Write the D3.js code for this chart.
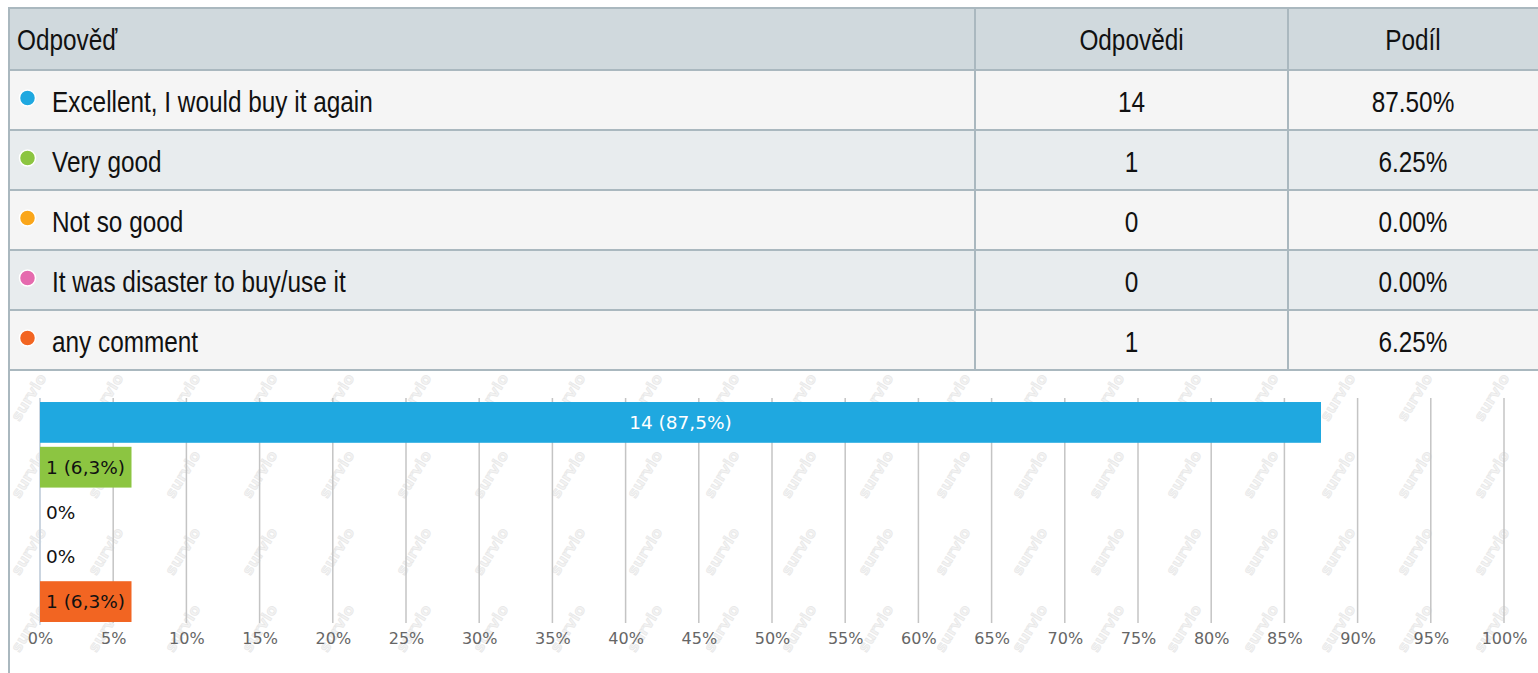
<!DOCTYPE html>
<html>
<head>
<meta charset="utf-8">
<script src="https://cdn.jsdelivr.net/npm/d3@7"></script>
<style>
  body { margin: 0; background: #fff; }
  svg { display: block; }
</style>
</head>
<body>
<script>
var width  = 1538;
var height = 673;

// data
var answers = [
  'Excellent, I would buy it again',
  'Very good',
  'Not so good',
  'It was disaster to buy/use it',
  'any comment'
];
var counts   = [14, 1, 0, 0, 1];
var shares   = ['87.50%', '6.25%', '0.00%', '0.00%', '6.25%'];
var barText  = ['14 (87,5%)', '1 (6,3%)', '0%', '0%', '1 (6,3%)'];
var colors   = ['#1fa8e0', '#8cc541', '#faa61a', '#e56aae', '#f26522'];
var headers  = ['Odpověď', 'Odpovědi', 'Podíl'];
var tickVals = d3.range(0, 101, 5);

var total = d3.sum(counts);
var rows = answers.map(function(a, i){
  return { answer: a, count: counts[i], share: shares[i], pct: counts[i] / total * 100,
           label: barText[i], color: colors[i] };
});

// no narrow font installed: squeeze Liberation Sans horizontally instead
var tableFont = '"Liberation Sans", Arial, sans-serif';
var squeeze   = 0.84;
var chartFont = '"DejaVu Sans", Verdana, sans-serif';
var border = '#aab8bf';

var svg = d3.select('body')
            .append('svg')
            .attr('width', width)
            .attr('height', height);

function narrowText(sel, x, y, anchor, txt){
  return sel.append('text')
            .attr('transform', 'translate(' + x + ',' + y + ') scale(' + squeeze + ',1)')
            .attr('text-anchor', anchor)
            .attr('font-family', tableFont)
            .attr('font-size', '29px')
            .attr('fill', '#111')
            .text(txt);
}

// ---- table ----
var tLeft = 9, tTop = 8, headH = 62, rowH = 60, tRight = 1545;
var col1 = 975, col2 = 1288;

svg.append('rect')
   .attr('x', tLeft).attr('y', tTop)
   .attr('width', tRight - tLeft).attr('height', headH)
   .attr('fill', '#d0d9dd');

var rowG = svg.selectAll('g.row')
              .data(rows)
              .enter()
              .append('g')
              .attr('class', 'row')
              .attr('transform', function(d, i){ return 'translate(0,' + (tTop + headH + i * rowH) + ')'; });

rowG.append('rect')
    .attr('x', tLeft).attr('y', 0)
    .attr('width', tRight - tLeft).attr('height', rowH)
    .attr('fill', function(d, i){ return i % 2 ? '#e8ecee' : '#f5f5f5'; });

// horizontal lines
var hLines = d3.range(rows.length + 2).map(function(i){
  return i === 0 ? tTop : tTop + headH + (i - 1) * rowH;
});
svg.selectAll('line.h')
   .data(hLines)
   .enter()
   .append('line')
   .attr('x1', tLeft).attr('x2', tRight)
   .attr('y1', function(d){ return d; }).attr('y2', function(d){ return d; })
   .attr('stroke', border).attr('stroke-width', 2);

var tBottom = hLines[hLines.length - 1];

svg.selectAll('line.v')
   .data([col1, col2])
   .enter()
   .append('line')
   .attr('x1', function(d){ return d; }).attr('x2', function(d){ return d; })
   .attr('y1', tTop).attr('y2', tBottom)
   .attr('stroke', border).attr('stroke-width', 2);

// left border runs down the whole panel
svg.append('line')
   .attr('x1', tLeft).attr('x2', tLeft)
   .attr('y1', tTop - 1).attr('y2', height)
   .attr('stroke', border).attr('stroke-width', 2);

// header texts
var headPos = [
  { x: 17, anchor: 'start' },
  { x: (col1 + col2) / 2, anchor: 'middle' },
  { x: (col2 + width) / 2, anchor: 'middle' }
];
headers.forEach(function(h, i){
  narrowText(svg, headPos[i].x, tTop + 42, headPos[i].anchor, h);
});

rowG.append('circle')
    .attr('cx', 27.5).attr('cy', rowH / 2 - 2).attr('r', 8)
    .attr('fill', function(d){ return d.color; })
    .attr('stroke', '#fff').attr('stroke-width', 1.5);

rowG.each(function(d){
  var g = d3.select(this);
  narrowText(g, 52, 42, 'start', d.answer);
  narrowText(g, headPos[1].x, 42, 'middle', d.count);
  narrowText(g, headPos[2].x, 42, 'middle', d.share);
});

// ---- chart ----
var chart = svg.append('g');

// faint watermark
var wm = chart.append('g')
              .attr('fill', '#f3f3f3')
              .attr('stroke', '#e6e6e6')
              .attr('stroke-width', 0.6)
              .attr('font-family', chartFont)
              .attr('font-weight', 'bold')
              .attr('font-size', '15px');
d3.range(0, 20).forEach(function(c){
  d3.range(0, 4).forEach(function(r){
    var cx = 33 + c * 77;
    if (cx > 1515) return;
    wm.append('text')
      .attr('transform', 'translate(' + cx + ',' + (400 + r * 77) + ') rotate(-58)')
      .attr('text-anchor', 'middle')
      .text('survio');
  });
});

var x = d3.scaleLinear()
          .domain([0, 100])
          .range([40, 1504]);

var y = d3.scaleBand()
          .domain(answers)
          .range([400, 624])
          .paddingInner(0.09)
          .paddingOuter(0.045);

// grid
chart.selectAll('line.grid')
     .data(tickVals)
     .enter()
     .append('line')
     .attr('x1', function(d){ return x(d); }).attr('x2', function(d){ return x(d); })
     .attr('y1', 398).attr('y2', 623)
     .attr('stroke', '#c4c4c4')
     .attr('stroke-width', 1.5);

// category axis line
chart.append('line')
     .attr('x1', 40).attr('x2', 40)
     .attr('y1', 398).attr('y2', 625)
     .attr('stroke', '#c8d6e4').attr('stroke-width', 1.5);

var xAxis = d3.axisBottom(x)
              .tickValues(tickVals)
              .tickSize(0)
              .tickPadding(0)
              .tickFormat(function(d){ return d + '%'; });

var ax = chart.append('g')
              .attr('transform', 'translate(0,629)')
              .call(xAxis);
ax.select('.domain').remove();
ax.selectAll('text')
  .attr('font-family', chartFont)
  .attr('font-size', '16px')
  .attr('fill', '#666')
  .attr('dy', '0.95em');

// bars
chart.selectAll('rect.bar')
     .data(rows.filter(function(d){ return d.pct > 0; }))
     .enter()
     .append('rect')
     .attr('x', x(0))
     .attr('y', function(d){ return y(d.answer); })
     .attr('width', function(d){ return x(d.pct) - x(0); })
     .attr('height', y.bandwidth())
     .attr('fill', function(d){ return d.color; });

chart.selectAll('text.lbl')
     .data(rows)
     .enter()
     .append('text')
     .attr('x', function(d){ return d.pct > 50 ? (x(0) + x(d.pct)) / 2 : x(0) + 6; })
     .attr('y', function(d){ return y(d.answer) + y.bandwidth() / 2; })
     .attr('dy', '0.36em')
     .attr('text-anchor', function(d){ return d.pct > 50 ? 'middle' : 'start'; })
     .attr('font-family', chartFont)
     .attr('font-size', '18.5px')
     .attr('fill', function(d){ return d.pct > 50 ? '#fff' : '#111'; })
     .text(function(d){ return d.label; });
</script>
</body>
</html>
